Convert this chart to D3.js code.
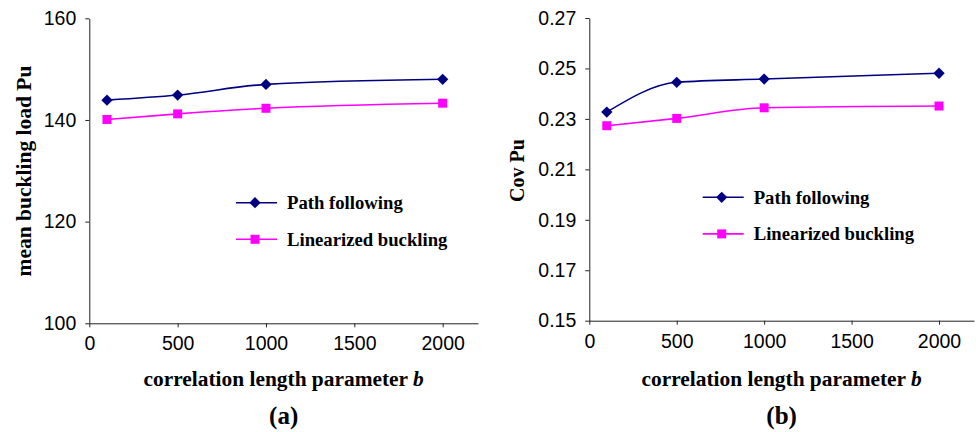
<!DOCTYPE html>
<html>
<head>
<meta charset="utf-8">
<script src="https://cdn.jsdelivr.net/npm/d3@7"></script>
<style>
  body { margin: 0; background: #fff; }
  svg { display: block; }
  .axis path, .axis line { stroke: #222; }
  .axis text { font-family: "Liberation Sans", Arial, sans-serif; font-size: 19.5px; fill: #000; }
  .title { font-family: "Liberation Serif", "Times New Roman", serif; font-weight: bold; fill: #000; }
</style>
</head>
<body>
<svg id="chart" width="976" height="432"></svg>
<script>
// correlation length parameter b
var bValues = [100, 500, 1000, 2000]

// (a) mean buckling load
var meanPath = [143.9, 144.9, 147.0, 148.0]
var meanLin = [140.1, 141.2, 142.3, 143.3]
var meanTicks = [100, 120, 140, 160]

// (b) coefficient of variation
var covPath = [0.2327, 0.2445, 0.2458, 0.2481]
var covLin = [0.2273, 0.2302, 0.2344, 0.2351]
var covTicks = [0.15, 0.17, 0.19, 0.21, 0.23, 0.25, 0.27]

var xTicks = [0, 500, 1000, 1500, 2000]
var seriesNames = ["Path following", "Linearized buckling"]
var colors = ["#000080", "#ff00ff"]

// excel style diamond (square turned 45 degrees)
var diamond = {
    draw: function(ctx, size) {
        var r = Math.sqrt(size / 2)
        ctx.moveTo(0, -r)
        ctx.lineTo(r, 0)
        ctx.lineTo(0, r)
        ctx.lineTo(-r, 0)
        ctx.closePath()
    }
}
var markers = [d3.symbol().type(diamond).size(64), d3.symbol().type(d3.symbolSquare).size(81)]

var svg = d3.select("#chart")

function drawPanel(opt) {
    var x = d3.scaleLinear().domain([0, 2200]).range([opt.left, opt.right])
    var y = d3.scaleLinear().domain(opt.yDomain).range([opt.bottom, opt.top])
    var g = svg.append("g")

    g.append("g").attr("class", "axis")
        .attr("transform", "translate(0," + opt.bottom + ")")
        .call(d3.axisBottom(x).tickValues(xTicks).tickFormat(d3.format("d")).tickSize(4).tickSizeOuter(0).tickPadding(9))

    g.append("g").attr("class", "axis")
        .attr("transform", "translate(" + opt.left + ",0)")
        .call(d3.axisLeft(y).tickValues(opt.yTicks).tickFormat(opt.fmt).tickSize(4).tickSizeOuter(0).tickPadding(9))

    var line = d3.line()
        .x(function(d, i) { return x(bValues[i]) })
        .y(function(d) { return y(d) })
        .curve(d3.curveMonotoneX)

    var series = [opt.path, opt.lin]
    series.forEach(function(s, k) {
        g.append("path").datum(s)
            .attr("d", line)
            .attr("fill", "none")
            .attr("stroke", colors[k])
            .attr("stroke-width", 1.6)
        g.selectAll(null).data(s).enter().append("path")
            .attr("transform", function(d, i) { return "translate(" + x(bValues[i]) + "," + y(d) + ")" })
            .attr("d", markers[k])
            .attr("fill", colors[k])
    })

    // legend
    seriesNames.forEach(function(name, k) {
        var ly = opt.legY + k * 36.6
        g.append("line")
            .attr("x1", opt.legX).attr("x2", opt.legX + 41)
            .attr("y1", ly).attr("y2", ly)
            .attr("stroke", colors[k]).attr("stroke-width", 1.6)
        g.append("path")
            .attr("transform", "translate(" + (opt.legX + 19) + "," + ly + ")")
            .attr("d", markers[k])
            .attr("fill", colors[k])
        g.append("text").attr("class", "title")
            .attr("x", opt.legX + 51).attr("y", ly)
            .attr("dy", "0.35em")
            .style("font-size", "18.7px")
            .text(name)
    })

    var cx = (x(0) + x(2200)) / 2
    var xt = g.append("text").attr("class", "title")
        .attr("x", cx).attr("y", 386)
        .attr("text-anchor", "middle")
        .style("font-size", "21.4px")
    xt.append("tspan").text("correlation length parameter ")
    xt.append("tspan").style("font-style", "italic").text("b")

    g.append("text").attr("class", "title")
        .attr("x", cx).attr("y", 424)
        .attr("text-anchor", "middle")
        .style("font-size", "25px")
        .text(opt.label)

    g.append("text").attr("class", "title")
        .attr("transform", "translate(" + opt.yTitleX + "," + opt.yTitleY + ") rotate(-90)")
        .attr("text-anchor", "middle")
        .attr("dy", "0.35em")
        .style("font-size", opt.yTitleSize)
        .text(opt.yTitle)
}

drawPanel({
    left: 89.3, right: 478, top: 18.3, bottom: 323.3,
    yDomain: [100, 160], yTicks: meanTicks, fmt: d3.format("d"),
    path: meanPath, lin: meanLin,
    legX: 236, legY: 202.7,
    label: "(a)", yTitle: "mean buckling load Pu", yTitleX: 23, yTitleY: 171, yTitleSize: "21.5px"
})

drawPanel({
    left: 589.3, right: 974, top: 18, bottom: 320.7,
    yDomain: [0.15, 0.27], yTicks: covTicks, fmt: d3.format(".2f"),
    path: covPath, lin: covLin,
    legX: 702.7, legY: 197.3,
    label: "(b)", yTitle: "Cov Pu", yTitleX: 517, yTitleY: 170.5, yTitleSize: "20px"
})
</script>
</body>
</html>
